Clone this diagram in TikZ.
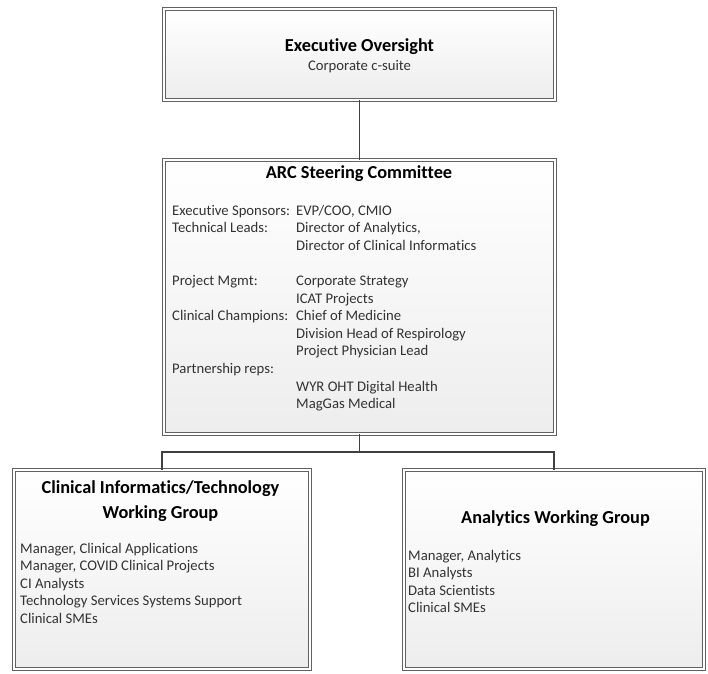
\documentclass[tikz,border=0pt]{standalone}
\usepackage{fontspec}
\setmainfont[Ligatures=NoCommon]{Carlito}
\usepackage{tikz}
\usetikzlibrary{positioning}

\tikzset{
  box/.style={draw=black!62, double=white, double distance=1.6pt, line width=0.9pt,
    top color=white, bottom color=black!7, inner sep=0pt, outer sep=0pt},
  title/.style={font=\fontsize{18.3}{22}\selectfont\bfseries, anchor=base, inner sep=0pt},
  body/.style={font=\fontsize{14.7}{17.6}\selectfont, text=black!80, anchor=base west, inner sep=0pt},
  link/.style={draw=black!75, line width=1.2pt},
}

\begin{document}
\begin{tikzpicture}[x=1pt,y=-1pt]
    \useasboundingbox (0,0) rectangle (708,673);

    \node[box, minimum width=391pt, minimum height=91pt] (exec) at (359.5,54.5) {};
    \node[box, minimum width=391pt, minimum height=274pt] (steer) at (359.5,297) {};
    \node[box, minimum width=296pt, minimum height=199pt] (ci) at (162,569.5) {};
    \node[box, minimum width=300pt, minimum height=199pt] (an) at (554,569.5) {};

    \coordinate (split) at (359.5,452);
    \draw[link] (exec.south) -- (steer.north);
    \draw[link] (steer.south) -- (split) -| (ci.north);
    \draw[link] (split) -| (an.north);

    \node[title] (execT) at (359.5,51) {Executive Oversight};
    \node[body, anchor=base] (execS) at (359.5,70) {Corporate c-suite};

    \node[title] (steerT) at (359,178) {ARC Steering Committee};
    \node[body] (steerL) at (172,215) {\begin{tabular}[t]{@{}p{124pt}@{}l@{}}
      Executive Sponsors: & EVP/COO, CMIO\\
      Technical Leads: & Director of Analytics,\\
       & Director of Clinical Informatics\\
       & \\
      Project Mgmt: & Corporate Strategy\\
       & ICAT Projects\\
      Clinical Champions: & Chief of Medicine\\
       & Division Head of Respirology\\
       & Project Physician Lead\\
      Partnership reps: & \\
       & WYR OHT Digital Health\\
       & MagGas Medical
    \end{tabular}};

    \node[title] (ciT) at (160.5,493) {Clinical Informatics/Technology};
    \node[title] (ciT2) at (160.5,518) {Working Group};
    \node[body] (ciL) at (20,553) {\begin{tabular}[t]{@{}l@{}}
      Manager, Clinical Applications\\
      Manager, COVID Clinical Projects\\
      CI Analysts\\
      Technology Services Systems Support\\
      Clinical SMEs
    \end{tabular}};

    \node[title] (anT) at (555.5,523) {Analytics Working Group};
    \node[body] (anL) at (408,560) {\begin{tabular}[t]{@{}l@{}}
      Manager, Analytics\\
      BI Analysts\\
      Data Scientists\\
      Clinical SMEs
    \end{tabular}};
\end{tikzpicture}
\end{document}
